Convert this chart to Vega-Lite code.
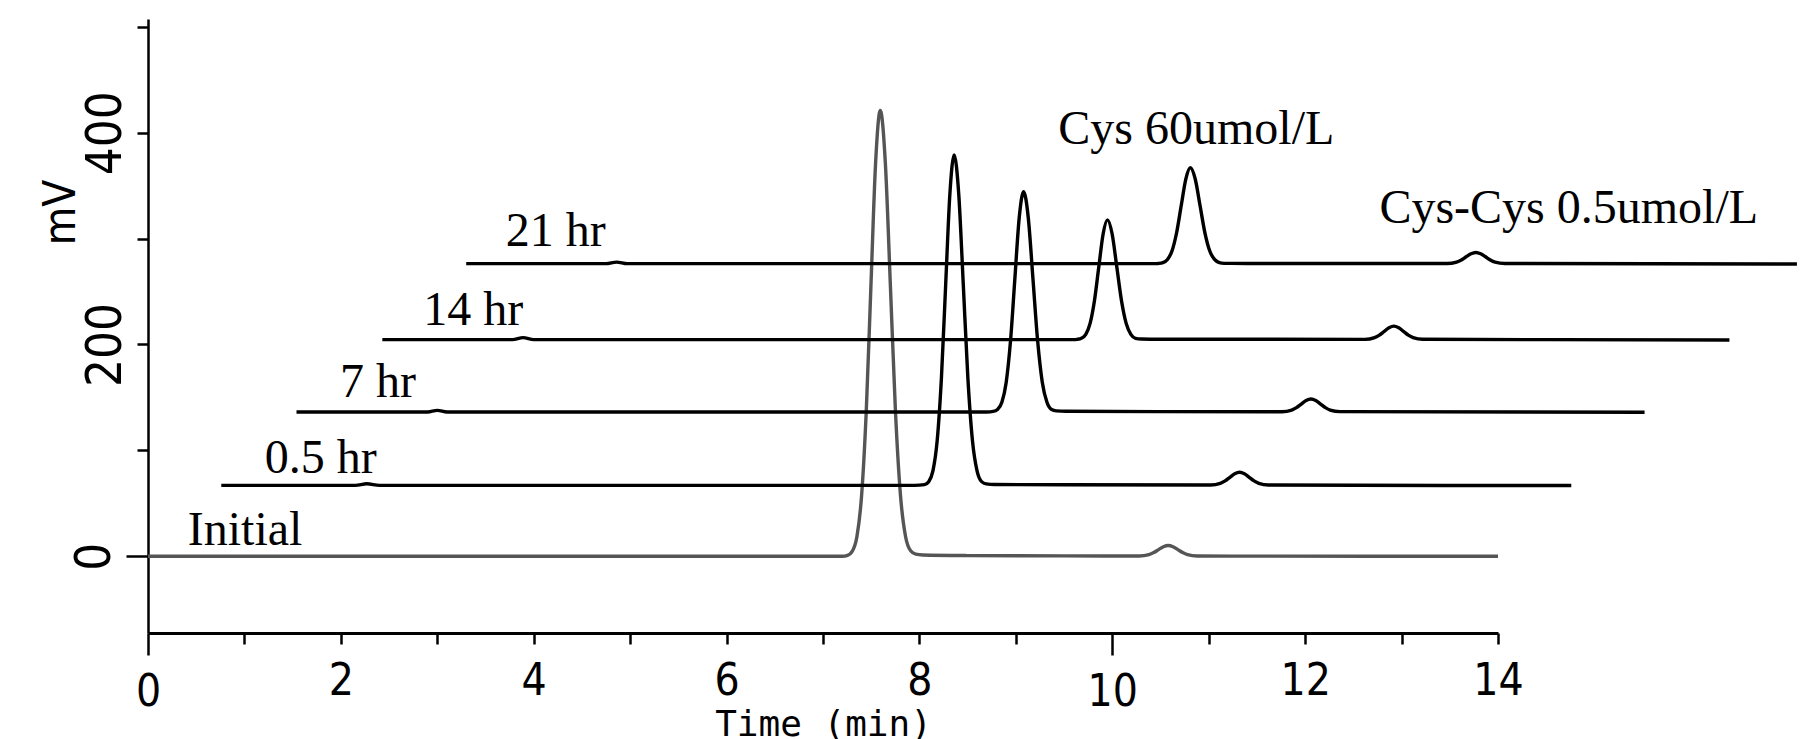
{
"$schema":"https://vega.github.io/schema/vega-lite/v6.json",
"width":1350,"height":614,
"autosize":{"type":"none"},
"padding":{"left":148,"top":19,"right":302,"bottom":106},
"background":"white",
"config":{"view":{"stroke":null}},
"layer":[
{"data":{"values":[
{"s":"Initial","t":0,"v":0},{"s":"Initial","t":7.2,"v":0},{"s":"Initial","t":7.2545,"v":0.9},{"s":"Initial","t":7.303,"v":4.7},{"s":"Initial","t":7.3515,"v":18.5},{"s":"Initial","t":7.4,"v":57},{"s":"Initial","t":7.4485,"v":136.7},{"s":"Initial","t":7.497,"v":255.3},{"s":"Initial","t":7.5455,"v":371.5},{"s":"Initial","t":7.594,"v":421},{"s":"Initial","t":7.6465,"v":371.5},{"s":"Initial","t":7.699,"v":255.3},{"s":"Initial","t":7.7515,"v":136.7},{"s":"Initial","t":7.804,"v":57},{"s":"Initial","t":7.8565,"v":18.5},{"s":"Initial","t":7.909,"v":5.2},{"s":"Initial","t":7.9615,"v":2},{"s":"Initial","t":8.035,"v":1.2},{"s":"Initial","t":8.5,"v":0.7},{"s":"Initial","t":9.5,"v":0.4},{"s":"Initial","t":10.28,"v":0.3},{"s":"Initial","t":10.38,"v":1.6},{"s":"Initial","t":10.43,"v":3.5},{"s":"Initial","t":10.48,"v":6.3},{"s":"Initial","t":10.53,"v":9},{"s":"Initial","t":10.58,"v":10.2},{"s":"Initial","t":10.63,"v":9},{"s":"Initial","t":10.68,"v":6.3},{"s":"Initial","t":10.73,"v":3.5},{"s":"Initial","t":10.78,"v":1.6},{"s":"Initial","t":10.88,"v":0.3},{"s":"Initial","t":11.3,"v":0.2},{"s":"Initial","t":14,"v":0},
{"s":"0.5 hr","t":0.76,"v":67},{"s":"0.5 hr","t":2.15,"v":67},{"s":"0.5 hr","t":2.27,"v":68.5},{"s":"0.5 hr","t":2.4,"v":67},{"s":"0.5 hr","t":7.95,"v":67},{"s":"0.5 hr","t":8.052,"v":67.7},{"s":"0.5 hr","t":8.096,"v":70.5},{"s":"0.5 hr","t":8.14,"v":80.7},{"s":"0.5 hr","t":8.184,"v":109.2},{"s":"0.5 hr","t":8.228,"v":168.3},{"s":"0.5 hr","t":8.272,"v":256.2},{"s":"0.5 hr","t":8.316,"v":342.3},{"s":"0.5 hr","t":8.36,"v":379},{"s":"0.5 hr","t":8.4075,"v":342.3},{"s":"0.5 hr","t":8.455,"v":256.2},{"s":"0.5 hr","t":8.5025,"v":168.3},{"s":"0.5 hr","t":8.55,"v":109.2},{"s":"0.5 hr","t":8.5975,"v":80.7},{"s":"0.5 hr","t":8.645,"v":70.5},{"s":"0.5 hr","t":8.6925,"v":68.4},{"s":"0.5 hr","t":8.78,"v":67.8},{"s":"0.5 hr","t":9.5,"v":67.5},{"s":"0.5 hr","t":11.02,"v":67.3},{"s":"0.5 hr","t":11.12,"v":68.9},{"s":"0.5 hr","t":11.17,"v":71.2},{"s":"0.5 hr","t":11.22,"v":74.6},{"s":"0.5 hr","t":11.27,"v":77.9},{"s":"0.5 hr","t":11.32,"v":79.3},{"s":"0.5 hr","t":11.37,"v":77.9},{"s":"0.5 hr","t":11.42,"v":74.6},{"s":"0.5 hr","t":11.47,"v":71.2},{"s":"0.5 hr","t":11.52,"v":68.9},{"s":"0.5 hr","t":11.62,"v":67.3},{"s":"0.5 hr","t":14.76,"v":66.8},
{"s":"7 hr","t":1.54,"v":136.3},{"s":"7 hr","t":2.9,"v":136.3},{"s":"7 hr","t":3.0,"v":137.8},{"s":"7 hr","t":3.1,"v":136.3},{"s":"7 hr","t":8.7,"v":136.3},{"s":"7 hr","t":8.765,"v":136.8},{"s":"7 hr","t":8.81,"v":138.6},{"s":"7 hr","t":8.855,"v":145.4},{"s":"7 hr","t":8.9,"v":164.4},{"s":"7 hr","t":8.945,"v":203.8},{"s":"7 hr","t":8.99,"v":262.5},{"s":"7 hr","t":9.035,"v":319.9},{"s":"7 hr","t":9.08,"v":344.3},{"s":"7 hr","t":9.1285,"v":319.9},{"s":"7 hr","t":9.177,"v":262.5},{"s":"7 hr","t":9.2255,"v":203.8},{"s":"7 hr","t":9.274,"v":164.4},{"s":"7 hr","t":9.3225,"v":145.4},{"s":"7 hr","t":9.371,"v":138.6},{"s":"7 hr","t":9.42,"v":137.3},{"s":"7 hr","t":9.52,"v":136.9},{"s":"7 hr","t":10.5,"v":136.6},{"s":"7 hr","t":11.76,"v":136.5},{"s":"7 hr","t":11.86,"v":138.1},{"s":"7 hr","t":11.91,"v":140.4},{"s":"7 hr","t":11.96,"v":143.8},{"s":"7 hr","t":12.01,"v":147.1},{"s":"7 hr","t":12.06,"v":148.5},{"s":"7 hr","t":12.11,"v":147.1},{"s":"7 hr","t":12.16,"v":143.8},{"s":"7 hr","t":12.21,"v":140.4},{"s":"7 hr","t":12.26,"v":138.1},{"s":"7 hr","t":12.36,"v":136.6},{"s":"7 hr","t":15.52,"v":136},
{"s":"14 hr","t":2.43,"v":204.6},{"s":"14 hr","t":3.78,"v":204.6},{"s":"14 hr","t":3.89,"v":206.5},{"s":"14 hr","t":4.0,"v":204.6},{"s":"14 hr","t":9.6,"v":204.6},{"s":"14 hr","t":9.635,"v":204.85},{"s":"14 hr","t":9.68,"v":205.85},{"s":"14 hr","t":9.725,"v":209.6},{"s":"14 hr","t":9.77,"v":219.9},{"s":"14 hr","t":9.815,"v":241.3},{"s":"14 hr","t":9.86,"v":273.1},{"s":"14 hr","t":9.905,"v":304.3},{"s":"14 hr","t":9.95,"v":317.6},{"s":"14 hr","t":9.9985,"v":304.3},{"s":"14 hr","t":10.047,"v":273.1},{"s":"14 hr","t":10.0955,"v":241.3},{"s":"14 hr","t":10.144,"v":219.9},{"s":"14 hr","t":10.1925,"v":209.6},{"s":"14 hr","t":10.241,"v":205.85},{"s":"14 hr","t":10.3,"v":205.2},{"s":"14 hr","t":10.5,"v":205},{"s":"14 hr","t":12.62,"v":204.8},{"s":"14 hr","t":12.72,"v":206.5},{"s":"14 hr","t":12.77,"v":208.8},{"s":"14 hr","t":12.82,"v":212.4},{"s":"14 hr","t":12.87,"v":215.8},{"s":"14 hr","t":12.92,"v":217.3},{"s":"14 hr","t":12.97,"v":215.8},{"s":"14 hr","t":13.02,"v":212.4},{"s":"14 hr","t":13.07,"v":208.8},{"s":"14 hr","t":13.12,"v":206.5},{"s":"14 hr","t":13.22,"v":204.9},{"s":"14 hr","t":16.4,"v":204.3},
{"s":"21 hr","t":3.3,"v":276.3},{"s":"21 hr","t":4.75,"v":276.3},{"s":"21 hr","t":4.86,"v":277.8},{"s":"21 hr","t":4.97,"v":276.3},{"s":"21 hr","t":10.44,"v":276.3},{"s":"21 hr","t":10.4775,"v":276.5},{"s":"21 hr","t":10.525,"v":277.3},{"s":"21 hr","t":10.5725,"v":280.3},{"s":"21 hr","t":10.62,"v":288.5},{"s":"21 hr","t":10.6675,"v":305.7},{"s":"21 hr","t":10.715,"v":331.2},{"s":"21 hr","t":10.7625,"v":356.2},{"s":"21 hr","t":10.81,"v":366.8},{"s":"21 hr","t":10.86,"v":356.2},{"s":"21 hr","t":10.91,"v":331.2},{"s":"21 hr","t":10.96,"v":305.7},{"s":"21 hr","t":11.01,"v":288.5},{"s":"21 hr","t":11.06,"v":280.3},{"s":"21 hr","t":11.11,"v":277.3},{"s":"21 hr","t":11.16,"v":276.6},{"s":"21 hr","t":11.4,"v":276.5},{"s":"21 hr","t":13.47,"v":276.4},{"s":"21 hr","t":13.57,"v":277.8},{"s":"21 hr","t":13.62,"v":279.8},{"s":"21 hr","t":13.67,"v":282.8},{"s":"21 hr","t":13.72,"v":285.6},{"s":"21 hr","t":13.77,"v":286.9},{"s":"21 hr","t":13.82,"v":285.6},{"s":"21 hr","t":13.87,"v":282.8},{"s":"21 hr","t":13.92,"v":279.8},{"s":"21 hr","t":13.97,"v":277.8},{"s":"21 hr","t":14.07,"v":276.5},{"s":"21 hr","t":17.1,"v":276}
]},
"mark":{"type":"line","interpolate":"monotone","strokeWidth":3.4,"clip":false},
"encoding":{
"x":{"field":"t","type":"quantitative","scale":{"domain":[0,14],"nice":false,"zero":false},
"axis":{"values":[0,1,2,3,4,5,6,7,8,9,10,11,12,13,14],"format":"d","labelExpr":"datum.value % 2 == 0 ? datum.label : ''","grid":false,
"tickSize":{"condition":{"test":"datum.value % 10 == 0","value":22},"value":11},"tickWidth":2.5,"tickColor":"black","domainColor":"black","domainWidth":3,
"labelFont":"Liberation Sans Narrow, DejaVu Sans Condensed, sans-serif","labelFontSize":44,"labelColor":"black","labelPadding":15,"labelFlush":false,"labelOverlap":false,
"title":"Time (min)","titleFont":"DejaVu Sans Mono","titleFontSize":36,"titleFontWeight":"normal","titleColor":"black","titleBaseline":"top","titleY":74}},
"y":{"field":"v","type":"quantitative","scale":{"domain":[-72.4,507.3],"nice":false,"zero":false},
"axis":{"values":[0,100,200,300,400,500],"format":"d","labelExpr":"datum.value % 200 == 0 ? datum.label : ''","grid":false,
"tickSize":{"condition":{"test":"datum.value == 0","value":22},"value":11},"tickWidth":2.5,"tickColor":"black","domainColor":"black","domainWidth":2.5,
"labelFont":"Liberation Sans Narrow, DejaVu Sans Condensed, sans-serif","labelFontSize":49,"labelColor":"black","labelAngle":270,"labelAlign":"center","labelBaseline":"alphabetic","labelPadding":16.7,"labelFlush":false,"labelOverlap":false,
"title":"mV","titleFont":"Liberation Sans Narrow, DejaVu Sans Condensed, sans-serif","titleFontSize":44,"titleFontWeight":"normal","titleColor":"black","titleAngle":270,"titleAlign":"center","titleBaseline":"alphabetic","titleX":-73.3,"titleY":193}},
"color":{"field":"s","type":"nominal","scale":{"domain":["Initial","0.5 hr","7 hr","14 hr","21 hr"],"range":["#555555","#000000","#000000","#000000","#000000"]},"legend":null}
}},
{"data":{"values":[
{"t":0.412,"v":10.4,"label":"Initial"},
{"t":1.21,"v":78.4,"label":"0.5 hr"},
{"t":1.99,"v":150.1,"label":"7 hr"},
{"t":2.855,"v":218.1,"label":"14 hr"},
{"t":3.71,"v":292.9,"label":"21 hr"},
{"t":9.44,"v":389.4,"label":"Cys 60umol/L"},
{"t":12.77,"v":314.7,"label":"Cys-Cys 0.5umol/L"}
]},
"mark":{"type":"text","font":"Liberation Serif","fontSize":48,"align":"left","baseline":"alphabetic","color":"black","clip":false},
"encoding":{"x":{"field":"t","type":"quantitative"},"y":{"field":"v","type":"quantitative"},"text":{"field":"label"}}}
]
}
